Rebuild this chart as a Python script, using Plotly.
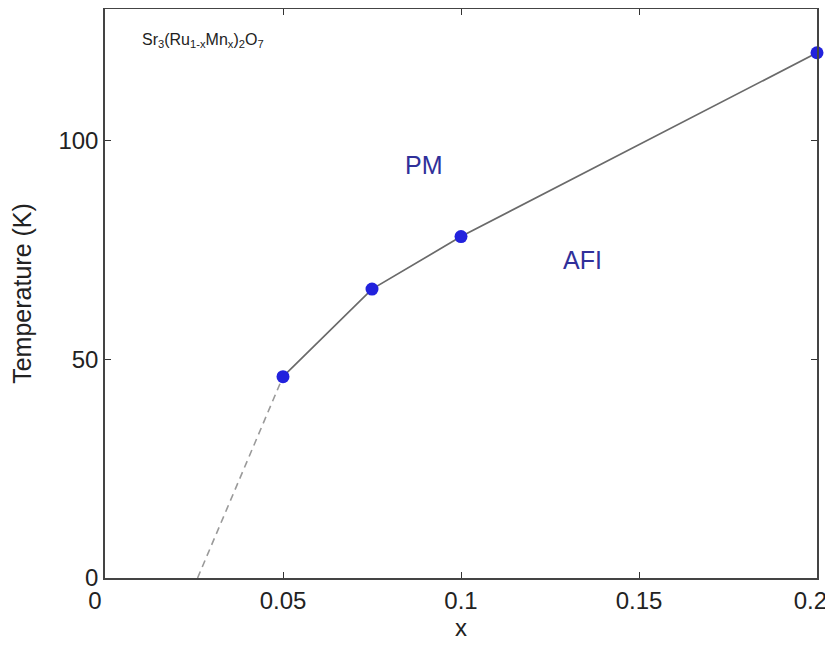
import plotly.graph_objects as go

x_pts = [0.05, 0.075, 0.1, 0.2]
t_pts = [46, 66, 78, 120]
x_dash = [0.026, 0.05]
t_dash = [0, 46]
x_ticks = [0, 0.05, 0.1, 0.15, 0.2]
x_ticklabels = ["0\u00a0\u00a0\u00a0", "0.05", "0.1", "0.15", "0.2\u00a0\u00a0"]
y_ticks = [0, 50, 100]
y_ticklabels = ["0", "50", "100"]

fnt = "Liberation Sans, Arial, sans-serif"
fig = go.Figure()
fig.add_trace(go.Scatter(x=x_dash, y=t_dash, mode="lines",
                         line=dict(color="#9a9a9a", width=1.6, dash="7px,5px"),
                         showlegend=False, hoverinfo="skip"))
fig.add_trace(go.Scatter(x=x_pts, y=t_pts, mode="lines",
                         line=dict(color="#6a6a6a", width=1.7),
                         showlegend=False, hoverinfo="skip"))
fig.add_trace(go.Scatter(x=x_pts, y=t_pts, mode="markers",
                         marker=dict(color="#2222dd", size=13),
                         showlegend=False, cliponaxis=False))

fig.add_annotation(x=0.0098, y=122.7, text="Sr<sub>3</sub>(Ru<sub>1-x</sub>Mn<sub>x</sub>)<sub>2</sub>O<sub>7</sub>",
                   showarrow=False, xanchor="left", yanchor="middle",
                   font=dict(family=fnt, size=16, color="#222222"))
fig.add_annotation(x=0.0896, y=94.4, text="PM", showarrow=False,
                   font=dict(family=fnt, size=25, color="#30309a"))
fig.add_annotation(x=0.134, y=72.7, text="AFI", showarrow=False,
                   font=dict(family=fnt, size=25, color="#30309a"))

fig.update_xaxes(range=[0, 0.2], tickvals=x_ticks, ticktext=x_ticklabels,
                 ticks="inside", ticklen=6, tickcolor="#333", showline=True,
                 linecolor="#444", linewidth=1.5, mirror="ticks", showgrid=False,
                 zeroline=False, ticklabeloverflow="allow",
                 title=dict(text="x", font=dict(family=fnt, size=24, color="#222"), standoff=6),
                 tickfont=dict(family=fnt, size=24, color="#222"))
fig.update_yaxes(range=[0, 130], tickvals=y_ticks, ticktext=y_ticklabels,
                 ticks="inside", ticklen=6, tickcolor="#333", showline=True,
                 linecolor="#444", linewidth=1.5, mirror="ticks", showgrid=False,
                 zeroline=False, ticklabeloverflow="allow",
                 title=dict(text="Temperature (K)", font=dict(family=fnt, size=25, color="#222"), standoff=20),
                 tickfont=dict(family=fnt, size=24, color="#222"))
fig.update_layout(width=825, height=638, margin=dict(l=97, r=16, t=1, b=68, autoexpand=False),
                  plot_bgcolor="white", paper_bgcolor="white")
fig.write_html("out.html")
